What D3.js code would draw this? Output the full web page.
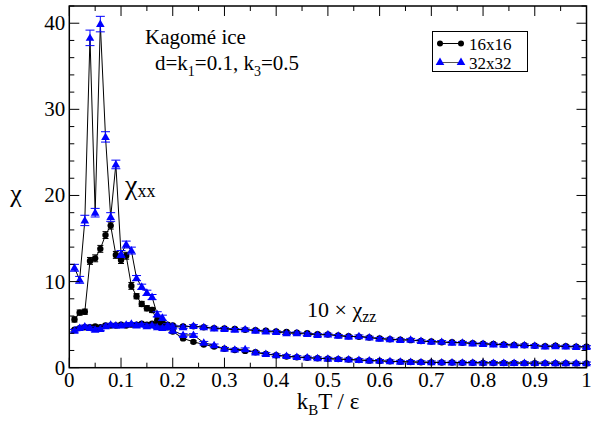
<!DOCTYPE html>
<html>
<head>
<script src="https://d3js.org/d3.v7.min.js"></script>
<style>
  body { margin: 0; background: #fff; }
</style>
</head>
<body>
<div id="chart"></div>
<script>
// temperatures k_B T / eps
const temps = [0.01, 0.02, 0.03, 0.04, 0.05, 0.06, 0.07, 0.08, 0.09, 0.10,
  0.11, 0.12, 0.13, 0.14, 0.15, 0.16, 0.17, 0.18, 0.19, 0.20,
  0.22, 0.24, 0.26, 0.28, 0.30, 0.32, 0.34, 0.36, 0.38, 0.40,
  0.42, 0.44, 0.46, 0.48, 0.50, 0.52, 0.54, 0.56, 0.58, 0.60,
  0.62, 0.64, 0.66, 0.68, 0.70, 0.72, 0.74, 0.76, 0.78, 0.80,
  0.82, 0.84, 0.86, 0.88, 0.90, 0.92, 0.94, 0.96, 0.98, 1.00];

// chi_xx
const xx16 = [5.6, 6.4, 6.5, 12.4, 12.7, 13.8, 15.4, 16.5, 13.1, 12.5,
  13.0, 9.5, 8.3, 7.4, 6.9, 6.7, 5.5, 5.1, 4.7, 4.2,
  3.4, 3.0, 2.7, 2.45, 2.2, 2.05, 1.95, 1.8, 1.6, 1.45,
  1.3, 1.22, 1.15, 1.1, 1.05, 1.0, 0.95, 0.88, 0.82, 0.78,
  0.74, 0.7, 0.66, 0.64, 0.62, 0.6, 0.6, 0.58, 0.57, 0.56,
  0.55, 0.55, 0.54, 0.53, 0.53, 0.52, 0.52, 0.51, 0.5, 0.5];
const xx32 = [11.6, 10.2, 17.1, 38.3, 18.0, 39.9, 26.8, 17.5, 23.6, 13.2,
  14.3, 13.6, 10.4, 9.4, 8.7, 8.2, 6.2, 5.8, 4.9, 4.3,
  3.8, 3.8, 2.9, 2.6, 2.2, 2.1, 2.15, 1.75, 1.6, 1.45,
  1.35, 1.25, 1.18, 1.1, 1.05, 1.0, 0.95, 0.9, 0.84, 0.8,
  0.75, 0.7, 0.67, 0.65, 0.63, 0.62, 0.6, 0.59, 0.58, 0.57,
  0.56, 0.55, 0.55, 0.54, 0.53, 0.53, 0.52, 0.52, 0.51, 0.51];

// 10 x chi_zz
const zz16 = [4.4, 4.6, 4.7, 4.7, 4.8, 4.7, 4.9, 4.9, 4.9, 5.0,
  4.9, 5.0, 5.0, 5.1, 5.0, 5.1, 5.0, 5.0, 5.0, 4.9,
  4.8, 4.8, 4.7, 4.6, 4.55, 4.5, 4.4, 4.35, 4.3, 4.2,
  4.15, 4.05, 4.0, 3.9, 3.85, 3.75, 3.65, 3.6, 3.5, 3.4,
  3.3, 3.25, 3.2, 3.1, 3.05, 2.95, 2.95, 2.9, 2.85, 2.8,
  2.75, 2.7, 2.65, 2.6, 2.55, 2.5, 2.55, 2.5, 2.45, 2.45];
const zz32 = [4.3, 4.6, 4.8, 4.6, 4.4, 4.5, 4.8, 5.0, 4.9, 4.9,
  5.0, 5.1, 4.9, 5.0, 4.8, 4.9, 4.7, 4.6, 4.7, 4.8,
  4.7, 4.85, 4.7, 4.55, 4.5, 4.4, 4.45, 4.3, 4.2, 4.15,
  4.0, 4.0, 3.9, 3.8, 3.85, 3.7, 3.6, 3.65, 3.5, 3.35,
  3.3, 3.2, 3.25, 3.1, 3.0, 3.0, 2.9, 2.9, 2.8, 2.75,
  2.7, 2.65, 2.6, 2.6, 2.55, 2.45, 2.5, 2.45, 2.4, 2.4];

// error bars for the low-T part of chi_xx, the rest use errDefault
const errXX16 = [0.3, 0.3, 0.3, 0.4, 0.4, 0.4, 0.4, 0.4, 0.4, 0.4,
  0.4, 0.4, 0.3, 0.3, 0.3, 0.3, 0.3, 0.3, 0.2, 0.2];
const errXX32 = [0.4, 0.4, 0.6, 0.9, 0.5, 0.9, 0.6, 0.5, 0.5, 0.4,
  0.4, 0.4, 0.3, 0.3, 0.3, 0.3, 0.3, 0.3, 0.2, 0.2];
const errDefault = 0.15;

const xTicks = [0, 0.1, 0.2, 0.3, 0.4, 0.5, 0.6, 0.7, 0.8, 0.9, 1];
const yTicks = [0, 10, 20, 30, 40];

const width = 592, height = 423;
const margin = { top: 6, right: 5.5, bottom: 55.3, left: 69.3 };
const serif = "Liberation Serif";

const svg = d3.select("#chart").append("svg")
  .attr("width", width).attr("height", height)
  .attr("font-family", serif);

const x = d3.scaleLinear().domain([0, 1]).range([margin.left, width - margin.right]);
const y = d3.scaleLinear().domain([0, 42]).range([height - margin.bottom, margin.top]);

const x0 = x(0), x1 = x(1), y0 = y(0), y1 = y(42);

function makeSeries(vals, errs) {
  return temps.map((t, i) => ({ t: t, v: vals[i], e: (errs && i < errs.length) ? errs[i] : errDefault }));
}

const series = [
  { data: makeSeries(zz16), kind: "circle" },
  { data: makeSeries(xx16, errXX16), kind: "circle" },
  { data: makeSeries(zz32), kind: "tri" },
  { data: makeSeries(xx32, errXX32), kind: "tri" }
];

const line = d3.line().x(d => x(d.t)).y(d => y(d.v));
const tri = d3.symbol().type(d3.symbolTriangle).size(32);

series.forEach(s => {
  const col = s.kind === "circle" ? "#000" : "#0000ff";
  const g = svg.append("g");
  g.append("path").datum(s.data)
    .attr("d", line).attr("fill", "none")
    .attr("stroke", "#000").attr("stroke-width", 1);
  // error bars
  const cap = s.kind === "circle" ? 3 : 4.5;
  const eb = g.selectAll(".eb").data(s.data).enter().append("g");
  eb.append("line")
    .attr("x1", d => x(d.t)).attr("x2", d => x(d.t))
    .attr("y1", d => y(d.v - d.e)).attr("y2", d => y(d.v + d.e))
    .attr("stroke", col).attr("stroke-width", 1);
  [1, -1].forEach(sg => {
    eb.append("line")
      .attr("x1", d => x(d.t) - cap).attr("x2", d => x(d.t) + cap)
      .attr("y1", d => y(d.v + sg * d.e)).attr("y2", d => y(d.v + sg * d.e))
      .attr("stroke", col).attr("stroke-width", 1);
  });
  if (s.kind === "circle") {
    g.selectAll("circle").data(s.data).enter().append("circle")
      .attr("cx", d => x(d.t)).attr("cy", d => y(d.v)).attr("r", 3.2)
      .attr("fill", "#000");
  } else {
    g.selectAll(".tri").data(s.data).enter().append("path")
      .attr("d", tri)
      .attr("transform", d => "translate(" + x(d.t) + "," + (y(d.v) + 0.5) + ")")
      .attr("fill", "#0000ff");
  }
});

// frame
svg.append("rect")
  .attr("x", x0).attr("y", y1).attr("width", x1 - x0).attr("height", y0 - y1)
  .attr("fill", "none").attr("stroke", "#000").attr("stroke-width", 1.5);

// ticks, pointing inwards, mirrored on top and right
const xMinor = [0.05, 0.15, 0.25, 0.35, 0.45, 0.55, 0.65, 0.75, 0.85, 0.95];
const yMinor = [2, 4, 6, 8, 12, 14, 16, 18, 22, 24, 26, 28, 32, 34, 36, 38, 42];
const tk = svg.append("g").attr("stroke", "#000").attr("stroke-width", 1);
xTicks.forEach(v => {
  tk.append("line").attr("x1", x(v)).attr("x2", x(v)).attr("y1", y0).attr("y2", y0 - 10);
  tk.append("line").attr("x1", x(v)).attr("x2", x(v)).attr("y1", y1).attr("y2", y1 + 10);
});
xMinor.forEach(v => {
  tk.append("line").attr("x1", x(v)).attr("x2", x(v)).attr("y1", y0).attr("y2", y0 - 5);
  tk.append("line").attr("x1", x(v)).attr("x2", x(v)).attr("y1", y1).attr("y2", y1 + 5);
});
yTicks.forEach(v => {
  tk.append("line").attr("x1", x0).attr("x2", x0 + 10).attr("y1", y(v)).attr("y2", y(v));
  tk.append("line").attr("x1", x1).attr("x2", x1 - 10).attr("y1", y(v)).attr("y2", y(v));
});
yMinor.forEach(v => {
  tk.append("line").attr("x1", x0).attr("x2", x0 + 5).attr("y1", y(v)).attr("y2", y(v));
  tk.append("line").attr("x1", x1).attr("x2", x1 - 5).attr("y1", y(v)).attr("y2", y(v));
});

// tick labels
svg.selectAll(".xl").data(xTicks).enter().append("text")
  .attr("x", d => x(d)).attr("y", y0 + 19)
  .attr("text-anchor", "middle").attr("font-size", 21)
  .text(d => d3.format("~g")(d));
svg.selectAll(".yl").data(yTicks).enter().append("text")
  .attr("x", x0 - 4).attr("y", d => y(d) + 7)
  .attr("text-anchor", "end").attr("font-size", 21)
  .text(d => d);

// axis titles
const xt = svg.append("text").attr("x", 328).attr("y", 409)
  .attr("text-anchor", "middle").attr("font-size", 23);
xt.append("tspan").text("k");
xt.append("tspan").attr("font-size", 15).attr("dy", 6).text("B");
xt.append("tspan").attr("dy", -6).text("T / ε");

svg.append("text").attr("x", 16).attr("y", 202)
  .attr("text-anchor", "middle").attr("font-size", 26).text("χ");

// annotations
svg.append("text").attr("x", 145).attr("y", 44).attr("font-size", 21).text("Kagomé ice");
const ann = svg.append("text").attr("x", 155).attr("y", 70).attr("font-size", 21);
ann.append("tspan").text("d=k");
ann.append("tspan").attr("font-size", 14).attr("dy", 6).text("1");
ann.append("tspan").attr("dy", -6).text("=0.1, k");
ann.append("tspan").attr("font-size", 14).attr("dy", 6).text("3");
ann.append("tspan").attr("dy", -6).text("=0.5");

const cx = svg.append("text").attr("x", 125).attr("y", 194).attr("font-size", 28);
cx.append("tspan").text("χ");
cx.append("tspan").attr("font-size", 18).attr("dy", 3).text("xx");

const cz = svg.append("text").attr("x", 307).attr("y", 317).attr("font-size", 22);
cz.append("tspan").text("10 × χ");
cz.append("tspan").attr("font-size", 16).attr("dy", 5).text("zz");

// legend
const lg = svg.append("g");
lg.append("rect").attr("x", 432.5).attr("y", 31.5).attr("width", 95).attr("height", 40)
  .attr("fill", "#fff").attr("stroke", "#000").attr("stroke-width", 1);
lg.append("line").attr("x1", 440).attr("x2", 461).attr("y1", 43.5).attr("y2", 43.5)
  .attr("stroke", "#000").attr("stroke-width", 1);
[440, 461].forEach(px => lg.append("circle").attr("cx", px).attr("cy", 43.5).attr("r", 3).attr("fill", "#000"));
lg.append("text").attr("x", 469).attr("y", 49.5).attr("font-size", 17).text("16x16");
lg.append("line").attr("x1", 440).attr("x2", 461).attr("y1", 62.5).attr("y2", 62.5)
  .attr("stroke", "#555").attr("stroke-width", 1);
[440, 461].forEach(px => lg.append("path").attr("d", tri)
  .attr("transform", "translate(" + px + ",62.5)").attr("fill", "#0000ff"));
lg.append("text").attr("x", 469).attr("y", 68.5).attr("font-size", 17).text("32x32");
</script>
</body>
</html>
